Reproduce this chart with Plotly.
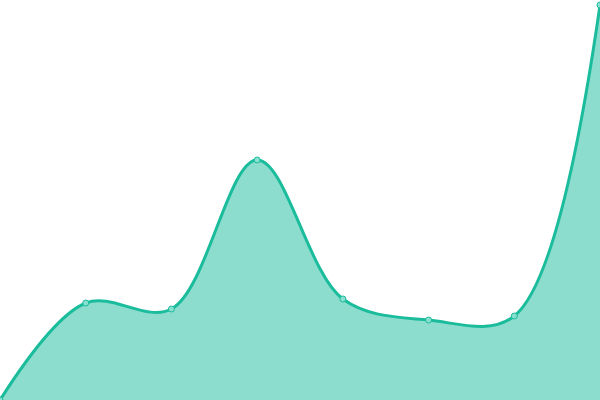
import plotly.graph_objects as go

# points evenly spaced along the x axis
x_vals = [0, 1, 2, 3, 4, 5, 6, 7]
y_vals = [0, 97, 91, 240, 101, 80, 84, 395]

teal = "#1abc9c"

fig = go.Figure()

fig.add_trace(go.Scatter(
    x=x_vals,
    y=y_vals,
    mode="lines+markers",
    line=dict(color=teal, width=3, shape="spline", smoothing=1),
    fill="tozeroy",
    fillcolor="rgba(26,188,156,0.5)",
    marker=dict(size=6, color="#8ae0d0", line=dict(color=teal, width=1)),
    cliponaxis=False,
    hoverinfo="skip",
))

fig.update_layout(
    width=600,
    height=400,
    margin=dict(l=0, r=0, t=0, b=0),
    paper_bgcolor="white",
    plot_bgcolor="white",
    showlegend=False,
    xaxis=dict(visible=False, range=[0, 7]),
    yaxis=dict(visible=False, range=[0, 400]),
)

# drop the page's default body margin so the chart sits at the corner
fig.write_html(
    "out.html",
    config={"displayModeBar": False},
    post_script="document.body.style.margin='0';",
)
